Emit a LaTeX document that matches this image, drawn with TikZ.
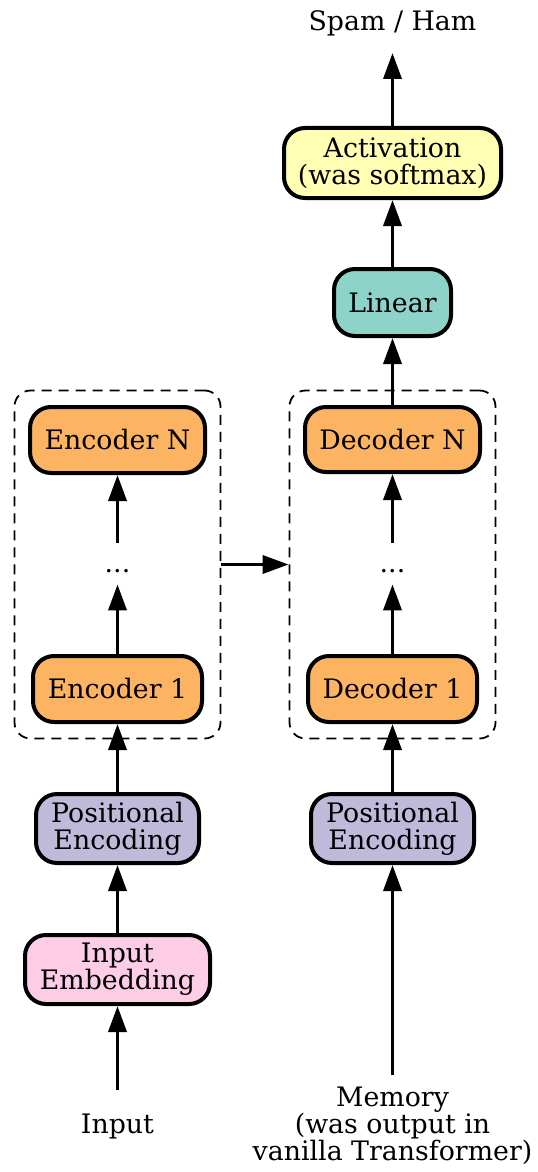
\documentclass[tikz,border=0pt]{standalone}
\usepackage{fontspec}
\setmainfont{DejaVu Serif}
\usetikzlibrary{arrows.meta}

\definecolor{teal3}{HTML}{8DD3C7}
\definecolor{yellow3}{HTML}{FFFFB3}
\definecolor{purple3}{HTML}{BEBADA}
\definecolor{orange3}{HTML}{FDB462}
\definecolor{pink3}{HTML}{FCCDE5}

\tikzset{
  lbl/.style={font=\fontsize{13.4}{13.5}\selectfont, align=center, inner sep=0pt},
  box/.style={lbl, draw=black, line width=2pt, rounded corners=10.5pt},
  cluster/.style={draw=black, line width=0.9pt, dash pattern=on 5pt off 3.5pt,
                  rounded corners=8pt, minimum width=103pt, minimum height=174pt, inner sep=0pt},
  dots/.style={lbl, text height=14.5pt, text depth=6pt},
  arr/.style={line width=1.8pt, -{Triangle[length=13pt,width=9pt]}}
}

\begin{document}
\begin{tikzpicture}[x=0.5pt, y=-0.5pt]
  \useasboundingbox (0,0) rectangle (537,1172);

  % dashed groups of stacked layers
  \node[cluster] (encgroup) at (117.5,564.5) {};
  \node[cluster] (decgroup) at (392.5,564.5) {};

  % encoder column
  \node[lbl, anchor=north, text height=21.5pt] (input) at (117.5,1090) {Input};
  \node[box, fill=pink3, minimum width=92.5pt, minimum height=34.5pt] (emb) at (117.5,969.5) {Input\\Embedding};
  \node[box, fill=purple3, minimum width=81.5pt, minimum height=34.5pt] (pe1) at (117.5,828.5) {Positional\\Encoding};
  \node[box, fill=orange3, minimum width=84.5pt, minimum height=33pt] (enc1) at (117.5,689) {Encoder 1};
  \node[dots] (dots1) at (117.5,563.5) {...};
  \node[box, fill=orange3, minimum width=87.5pt, minimum height=33pt] (encN) at (117.5,440) {Encoder N};

  % decoder column
  \node[lbl, anchor=north, inner ysep=6pt] (mem) at (392.5,1075) {Memory\\(was output in\\vanilla Transformer)};
  \node[box, fill=purple3, minimum width=81.5pt, minimum height=34.5pt] (pe2) at (392.5,828.5) {Positional\\Encoding};
  \node[box, fill=orange3, minimum width=84.5pt, minimum height=33pt] (dec1) at (392.5,689) {Decoder 1};
  \node[dots] (dots2) at (392.5,563.5) {...};
  \node[box, fill=orange3, minimum width=87.5pt, minimum height=32.5pt] (decN) at (392.5,439.5) {Decoder N};
  \node[box, fill=teal3, minimum width=58.5pt, minimum height=33.5pt] (lin) at (392.5,302.5) {Linear};
  \node[box, fill=yellow3, minimum width=108.5pt, minimum height=35pt] (act) at (392.5,163) {Activation\\(was softmax)};
  \node[lbl, anchor=south, text depth=11pt] (spam) at (392.5,53) {Spam / Ham};

  % connectors
  \draw[arr] (input.north) -- (emb.south);
  \draw[arr] (emb.north) -- (pe1.south);
  \draw[arr] (pe1.north) -- (enc1.south);
  \draw[arr] (enc1.north) -- (dots1.south);
  \draw[arr] (dots1.north) -- (encN.south);

  \draw[arr] (mem.north) -- (pe2.south);
  \draw[arr] (pe2.north) -- (dec1.south);
  \draw[arr] (dec1.north) -- (dots2.south);
  \draw[arr] (dots2.north) -- (decN.south);
  \draw[arr] (decN.north) -- (lin.south);
  \draw[arr] (lin.north) -- (act.south);
  \draw[arr] (act.north) -- (spam.south);

  \draw[arr] (encgroup.east) -- (decgroup.west);
\end{tikzpicture}
\end{document}
